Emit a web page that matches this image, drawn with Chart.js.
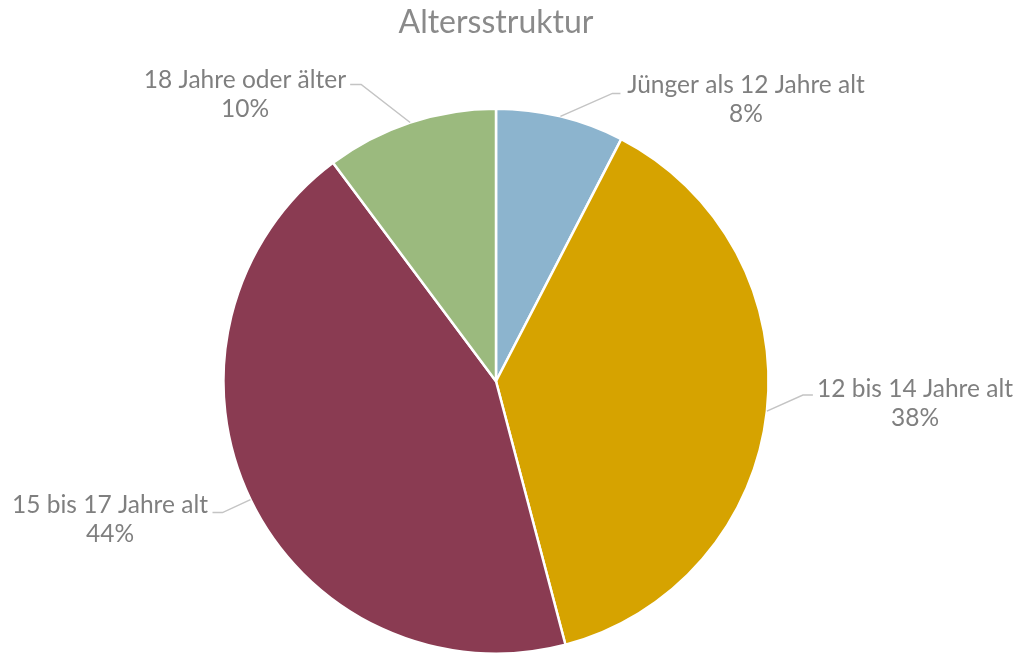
<!DOCTYPE html>
<html>
<head>
<meta charset="utf-8">
<script src="https://cdn.jsdelivr.net/npm/chart.js@4/dist/chart.umd.min.js"></script>
<style>
html,body{margin:0;padding:0;background:#fff;}
#wrap{width:1022px;height:655px;position:relative;}
</style>
</head>
<body>
<div id="wrap"><canvas id="c"></canvas></div>
<script>
const chartTitle = "Altersstruktur";
const categories = ["Jünger als 12 Jahre alt", "12 bis 14 Jahre alt", "15 bis 17 Jahre alt", "18 Jahre oder älter"];
const values = [7.6, 38.3, 43.9, 10.2];
const colors = ["#8CB4CE", "#D6A300", "#8A3B52", "#9BBA7E"];

// label layout: elbow offset from slice anchor, horizontal tail, text centre & baseline
const labelLayout = [
  {ex: 52, ey: -23, tail: 8,  tx: 746, ty: 93},
  {ex: 36, ey: -16, tail: 10, tx: 915, ty: 397},
  {ex: -28, ey: 13, tail: -10, tx: 110, ty: 513},
  {ex: -49, ey: -38, tail: -11, tx: 245, ty: 88}
];

const leaderPlugin = {
  id: 'leaders',
  afterDatasetsDraw(chart) {
    const ctx = chart.ctx;
    const meta = chart.getDatasetMeta(0);
    const total = values.reduce((a, b) => a + b, 0);
    meta.data.forEach((arc, i) => {
      const p = arc.getProps(['x', 'y', 'startAngle', 'endAngle', 'outerRadius'], true);
      const mid = (p.startAngle + p.endAngle) / 2;
      const ax = p.x + Math.cos(mid) * p.outerRadius;
      const ay = p.y + Math.sin(mid) * p.outerRadius;
      const L = labelLayout[i];
      const exX = ax + L.ex, exY = ay + L.ey;
      ctx.save();
      ctx.strokeStyle = '#C4C4C4';
      ctx.lineWidth = 1.5;
      ctx.beginPath();
      ctx.moveTo(ax, ay);
      ctx.lineTo(exX, exY);
      ctx.lineTo(exX + L.tail, exY);
      ctx.stroke();
      ctx.fillStyle = '#7F7F7F';
      ctx.font = '24.5px Lato, "Open Sans", sans-serif';
      ctx.textAlign = 'center';
      ctx.textBaseline = 'alphabetic';
      ctx.fillText(categories[i], L.tx, L.ty);
      ctx.fillText(Math.round(values[i] / total * 100) + '%', L.tx, L.ty + 29);
      ctx.restore();
    });
  }
};

new Chart(document.getElementById('c'), {
  type: 'pie',
  data: {
    labels: categories,
    datasets: [{
      data: values,
      backgroundColor: colors,
      borderColor: '#FFFFFF',
      borderWidth: 2.5
    }]
  },
  options: {
    responsive: true,
    maintainAspectRatio: false,
    animation: false,
    layout: {padding: {top: 0, bottom: 0, left: 0, right: 30}},
    plugins: {
      legend: {display: false},
      tooltip: {enabled: false},
      title: {
        display: true,
        text: chartTitle,
        color: '#8A8A8A',
        font: {family: 'Lato', size: 32, weight: 'normal'},
        padding: {top: 3, bottom: 66}
      }
    }
  },
  plugins: [leaderPlugin]
});
</script>
</body>
</html>
